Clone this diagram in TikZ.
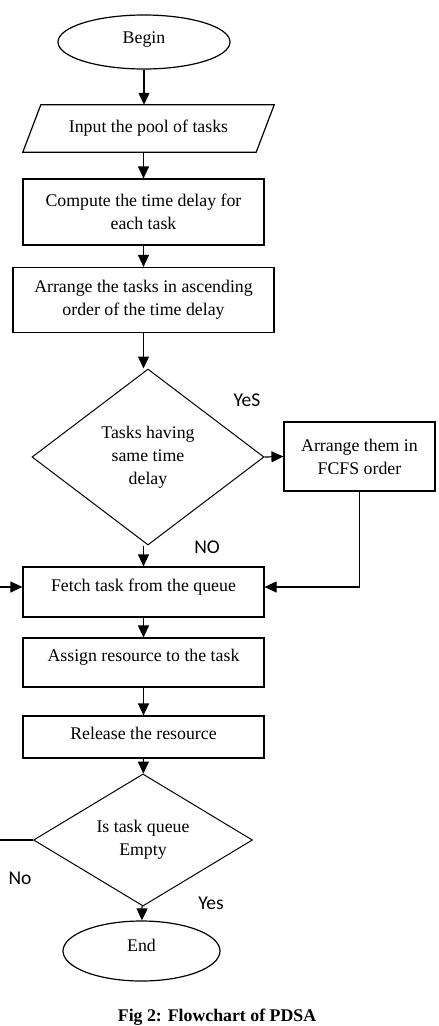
\documentclass[tikz,border=0pt]{standalone}
\usepackage{fontspec}
\setmainfont{Liberation Serif}
\newfontfamily\calibrifont{Carlito}
\usetikzlibrary{shapes.geometric,arrows.meta}

\begin{document}
\begin{tikzpicture}[x=1pt,y=-1pt]
  \tikzstyle{every node}=[font=\fontsize{17.8}{23}\selectfont,align=center,inner sep=0pt]
  \tikzstyle{process}=[rectangle,draw,line width=1.2pt,minimum width=241pt]
  \tikzstyle{decision}=[diamond,draw,line width=1pt]
  \tikzstyle{terminal}=[ellipse,draw,line width=1.2pt]
  \tikzstyle{flow}=[draw,line width=1.2pt,-{Triangle[length=12pt,width=11pt]}]
  \tikzstyle{answer}=[font=\calibrifont\fontsize{19.5}{22}\selectfont]
  \useasboundingbox (0,0) rectangle (439,1026);
  \node[terminal,minimum width=172pt,minimum height=54pt,text depth=8pt] (begin) at (144,42) {Begin};
  \node[minimum width=233pt,minimum height=47pt] (input) at (148.5,128.5) {Input the pool of tasks};
  \draw[line width=1.2pt] ([xshift=9pt]input.north west) -- ([xshift=9pt]input.north east)
    -- ([xshift=-9pt]input.south east) -- ([xshift=-9pt]input.south west) -- cycle;
  \node[process,minimum height=66pt] (compute) at (143.5,212) {Compute the time delay for\\each task};
  \node[process,minimum width=261pt,minimum height=65pt] (arrange) at (143.5,300) {Arrange the tasks in ascending\\order of the time delay};
  \node[decision,minimum width=232pt,minimum height=176pt] (same) at (148,457) {Tasks having\\same time\\delay};
  \node[process,minimum width=151pt,minimum height=69pt] (fcfs) at (359.5,456.5) {Arrange them in\\FCFS order};
  \node[process,minimum height=50pt,text depth=13pt] (fetch) at (143.5,592) {Fetch task from the queue};
  \node[process,minimum height=49pt,text depth=14pt] (assign) at (143.5,662.5) {Assign resource to the task};
  \node[process,minimum height=42pt,text depth=8pt] (release) at (143.5,737) {Release the resource};
  \node[decision,minimum width=219pt,minimum height=122pt] (empty) at (143,840) {Is task queue\\Empty};
  \node[terminal,minimum width=157pt,minimum height=60pt,text depth=11pt] (end) at (141.5,951) {End};
  \coordinate (loop) at (-20,700);
  \path[flow] (begin.south) -- (begin.south |- input.north);
  \path[flow] (input.south -| compute.north) -- (compute.north);
  \path[flow] (compute) -- (arrange);
  \path[flow] (arrange.south) -- (arrange.south |- same.north);
  \path[flow] (fetch.north |- same.south) -- (fetch.north);
  \path[flow] (same.east) -- (fcfs.west);
  \path[flow] (fcfs.south) |- ([yshift=5pt]fetch.east);
  \path[flow] (empty.west) -| (loop) |- ([yshift=5pt]fetch.west);
  \path[flow] (fetch) -- (assign);
  \path[flow] (assign) -- (release);
  \path[flow] (release) -- (empty);
  \path[flow] (empty) -- (end);
  \node[answer] (yes1) at (247,400) {YeS};
  \node[answer] (no1) at (207,547) {NO};
  \node[answer] (no2) at (20,878) {No};
  \node[answer] (yes2) at (211,903) {Yes};
  \node[font=\bfseries\fontsize{17.8}{20}\selectfont,anchor=base] (caption) at (217,1021) {Fig 2: Flowchart of PDSA};
\end{tikzpicture}
\end{document}
